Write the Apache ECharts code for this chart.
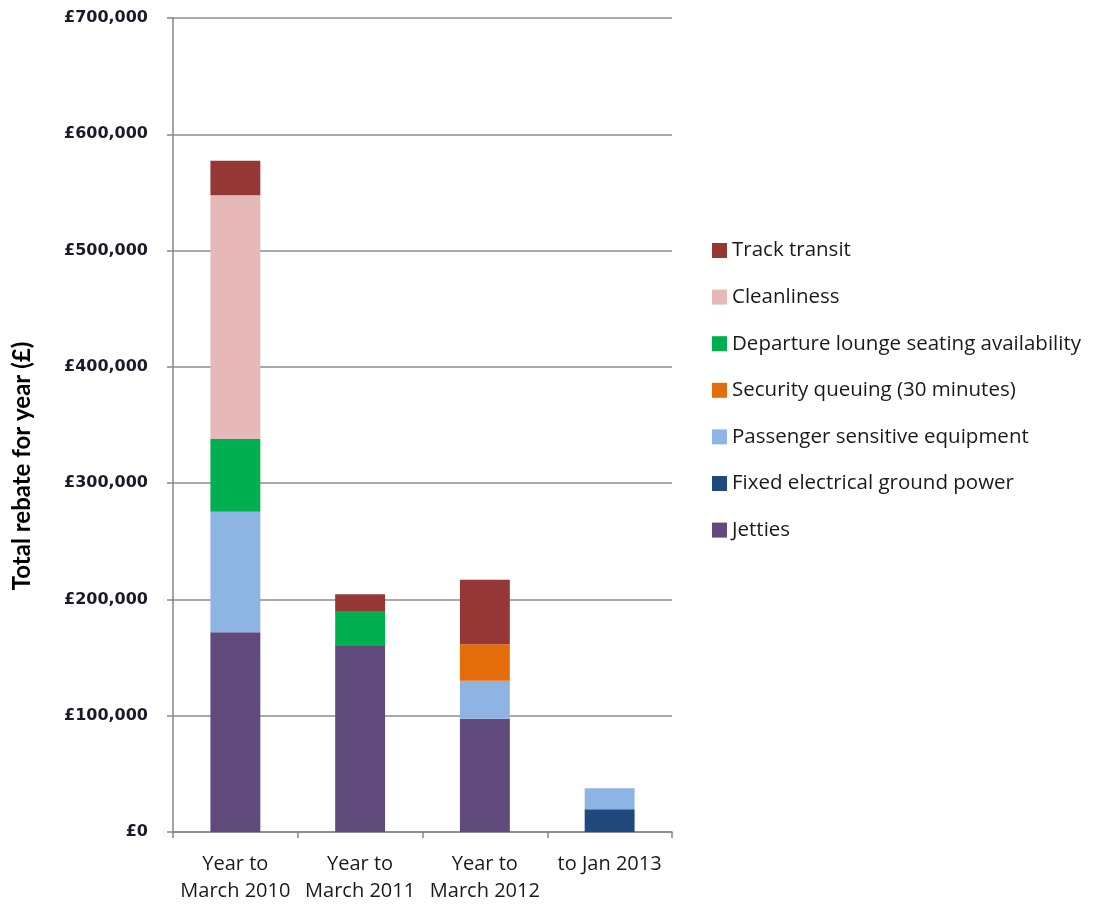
<!DOCTYPE html>
<html>
<head>
<meta charset="utf-8">
<script src="https://cdn.jsdelivr.net/npm/echarts@6/dist/echarts.min.js"></script>
<style>html,body{margin:0;padding:0;background:#fff}#c{width:1095px;height:906px}</style>
</head>
<body>
<div id="c"></div>
<script>
const categories = ['Year to\nMarch 2010', 'Year to\nMarch 2011', 'Year to\nMarch 2012', 'to Jan 2013'];
const yTicks = [0, 100000, 200000, 300000, 400000, 500000, 600000, 700000];
const jetties = [171700, 160000, 97400, null];
const fixedPower = [null, null, null, 19500];
const passengerEquip = [103700, null, 32700, 18100];
const securityQueue = [null, null, 31300, null];
const departureLounge = [62500, 30000, null, null];
const cleanliness = [209600, null, null, null];
const trackTransit = [29700, 14400, 55600, null];

const seriesDefs = [
  ['Jetties', jetties, '#604A7B'],
  ['Fixed electrical ground power', fixedPower, '#1F497D'],
  ['Passenger sensitive equipment', passengerEquip, '#8EB4E3'],
  ['Security queuing (30 minutes)', securityQueue, '#E46C0A'],
  ['Departure lounge seating availability', departureLounge, '#00B050'],
  ['Cleanliness', cleanliness, '#E6B9B8'],
  ['Track transit', trackTransit, '#953735']
];

const chart = echarts.init(document.getElementById('c'), null, {renderer: 'canvas'});
chart.setOption({
  animation: false,
  backgroundColor: '#fff',
  grid: {left: 173, right: 423, top: 18, bottom: 74, containLabel: false},
  legend: {
    orient: 'vertical',
    left: 707,
    top: 235,
    itemWidth: 15,
    itemHeight: 15,
    itemGap: 25.6,
    itemTextGap: 6,
    icon: 'rect',
    data: seriesDefs.map(s => s[0]).reverse(),
    textStyle: {fontFamily: 'Open Sans', fontSize: 20.5, color: '#1a1a1a', lineHeight: 20}
  },
  xAxis: {
    type: 'category',
    data: categories,
    axisLine: {lineStyle: {color: '#868686', width: 1.5}},
    axisTick: {show: true, length: 6, lineStyle: {color: '#868686', width: 1.5}},
    axisLabel: {fontFamily: 'Open Sans', fontSize: 20, color: '#1a1a1a', lineHeight: 27, margin: 19, interval: 0}
  },
  yAxis: {
    type: 'value',
    min: 0,
    max: 700000,
    interval: 100000,
    axisLine: {show: true, lineStyle: {color: '#868686', width: 1.5}},
    axisTick: {show: true, length: 6, lineStyle: {color: '#868686', width: 1.5}},
    splitLine: {lineStyle: {color: '#8c8c8c', width: 1.5}},
    axisLabel: {
      fontFamily: 'DejaVu Sans', fontWeight: 'bold', fontSize: 16, color: '#1a1a2a', margin: 25,
      formatter: v => yTicks.includes(v) ? '£' + v.toLocaleString('en-GB') : ''
    }
  },
  graphic: [{
    type: 'text',
    x: 22, y: 466,
    rotation: Math.PI / 2,
    style: {
      text: 'Total rebate for year (£)',
      fontFamily: 'Lato', fontWeight: 'bold', fontSize: 24, fill: '#000',
      textAlign: 'center', textVerticalAlign: 'middle'
    }
  }],
  series: seriesDefs.map(([name, data, color]) => ({
    name, type: 'bar', stack: 'total', data,
    barWidth: '40%',
    itemStyle: {color},
    emphasis: {disabled: true}
  }))
});
</script>
</body>
</html>
